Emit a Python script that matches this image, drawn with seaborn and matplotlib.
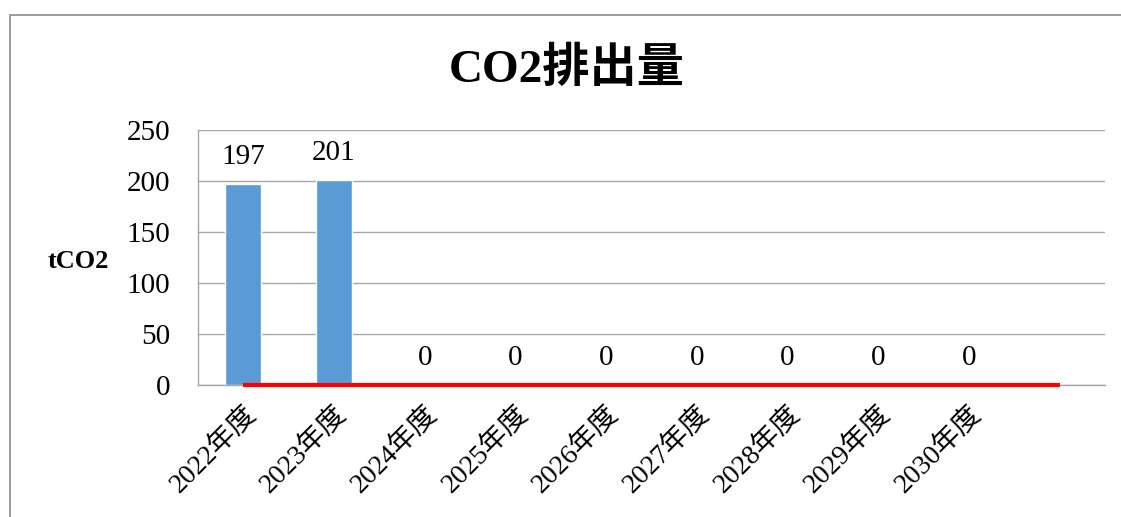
import numpy as np
import pandas as pd
import matplotlib
matplotlib.use("Agg")
import matplotlib.pyplot as plt
from matplotlib.patches import Rectangle
import seaborn as sns

categories = ["2022年度", "2023年度", "2024年度", "2025年度", "2026年度",
              "2027年度", "2028年度", "2029年度", "2030年度", ""]
emissions = [197, 201, 0, 0, 0, 0, 0, 0, 0, np.nan]
target = [0, 0, 0, 0, 0, 0, 0, 0, 0, 0]
yticks = [0, 50, 100, 150, 200, 250]

sns.set_style("white")
plt.rcParams['font.family'] = ['Liberation Serif', 'Noto Sans CJK JP', 'DejaVu Sans']
plt.rcParams['text.color'] = 'black'
plt.rcParams['xtick.labelcolor'] = 'black'
plt.rcParams['ytick.labelcolor'] = 'black'

df = pd.DataFrame({"year": categories, "value": emissions})

fig = plt.figure(figsize=(11.21, 5.17), dpi=100)
ax = fig.add_axes([198 / 1121, 1 - 385 / 517, (1105 - 198) / 1121, (385 - 130) / 517])

sns.barplot(data=df, x="year", y="value", order=categories, color="#5B9BD5",
            saturation=1, width=0.4, ax=ax)
ax.plot(np.arange(len(categories)), target, color="#FF0000", lw=3, zorder=4,
        solid_capstyle="butt", clip_on=False)

# data labels above each bar
for i, v in enumerate(emissions):
    if np.isnan(v):
        continue
    ax.annotate(f"{v:.0f}", (i, v), xytext=(0, 10), textcoords="offset points",
                ha="center", va="bottom", fontsize=21, color="black")

ax.set_ylim(0, 250)
ax.set_xlim(-0.5, len(categories) - 0.5)
ax.set_yticks(yticks)
ax.set_yticklabels([str(t) for t in yticks], fontsize=21)
ax.yaxis.grid(True, color="#a6a6a6", lw=1)
ax.set_axisbelow(True)

ax.set_xticks(np.arange(len(categories)))
ax.set_xticklabels(categories, rotation=45, ha="right", rotation_mode="anchor", fontsize=20)
ax.set_xticks(np.arange(len(categories) + 1) - 0.5, minor=True)
ax.tick_params(axis="x", which="major", length=0, pad=12)
ax.tick_params(axis="x", which="minor", length=6, color="#a6a6a6", direction="out")
ax.tick_params(axis="y", length=6, color="#a6a6a6", direction="out", pad=14)
ax.set_xlabel("")
ax.set_ylabel("")

for side in ["top", "right"]:
    ax.spines[side].set_visible(False)
for side in ["left", "bottom"]:
    ax.spines[side].set_color("#a6a6a6")
    ax.spines[side].set_linewidth(1)

fig.text(567 / 1121, 1 - 70 / 517, "CO2排出量", ha="center", va="center",
         fontsize=34, fontweight="bold")
fig.text(78 / 1121, 1 - 262 / 517, "tCO2", ha="center", va="center",
         fontsize=19, fontweight="bold")

fig.patches.append(Rectangle((10 / 1121, -0.1), 1.2, 1 - 15 / 517 + 0.1,
                             transform=fig.transFigure, fill=False,
                             edgecolor="#8c8c8c", lw=1.2))

fig.savefig("out.png", dpi=100)
